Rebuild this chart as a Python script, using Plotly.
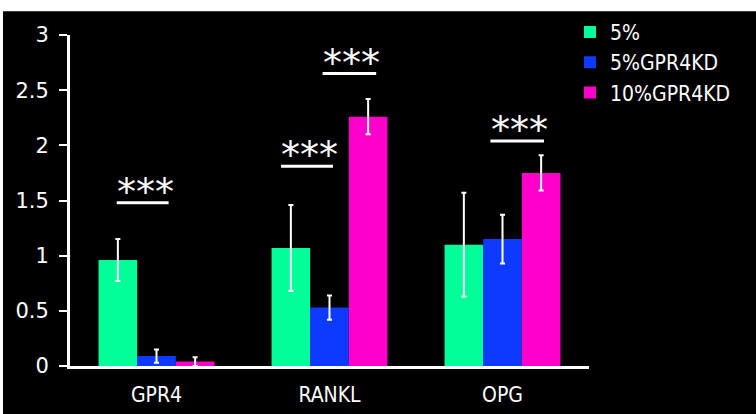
import plotly.graph_objects as go

# Relative expression by gene and culture condition
genes = ["GPR4", "RANKL", "OPG"]
series_names = ["5%", "5%GPR4KD", "10%GPR4KD"]
means = {
    "5%":        [0.96, 1.07, 1.10],
    "5%GPR4KD":  [0.09, 0.53, 1.15],
    "10%GPR4KD": [0.04, 2.26, 1.75],
}
errors = {
    "5%":        [0.19, 0.39, 0.47],
    "5%GPR4KD":  [0.06, 0.11, 0.22],
    "10%GPR4KD": [0.04, 0.16, 0.16],
}
colors = {"5%": "#00FF99", "5%GPR4KD": "#0D3AFF", "10%GPR4KD": "#FF00CC"}

# Significance marks: (gene index, left offset, right offset, bar height, label)
sig_gene = [0, 1, 1, 2]
sig_x0 = [-0.23, -0.28, -0.04, -0.07]
sig_x1 = [0.07, 0.02, 0.27, 0.24]
sig_y = [1.48, 1.81, 2.65, 2.04]
sig_text = ["***", "***", "***", "***"]

FONT = "DejaVu Sans Condensed, DejaVu Sans, sans-serif"

fig = go.Figure()
for name in series_names:
    fig.add_trace(go.Bar(
        x=genes, y=means[name], name=name,
        marker=dict(color=colors[name], line=dict(width=0)),
        error_y=dict(type="data", array=errors[name], visible=True,
                     color="white", thickness=2, width=2.5),
    ))

shapes = [
    # white frame strip along the top and left edges
    dict(type="rect", xref="paper", yref="paper", layer="below",
         x0=(3 - 70) / 519, x1=(760 - 70) / 519,
         y0=(366 - 420) / 335, y1=(366 - 7) / 335,
         fillcolor="black", line=dict(width=0)),
]
annotations = []
for g, a, b, y, t in zip(sig_gene, sig_x0, sig_x1, sig_y, sig_text):
    shapes.append(dict(type="line", xref="x", yref="y",
                       x0=g + a, x1=g + b, y0=y, y1=y,
                       line=dict(color="white", width=3)))
    annotations.append(dict(x=g + (a + b) / 2 + 0.015, y=y, xref="x", yref="y",
                            text=t, showarrow=False, yanchor="middle",
                            yshift=11,
                            font=dict(family="DejaVu Sans", size=38, color="white")))

fig.update_layout(
    width=756, height=414,
    margin=dict(l=70, r=167, t=31, b=48, pad=0),
    paper_bgcolor="white", plot_bgcolor="black",
    barmode="group", bargap=0.33, bargroupgap=0,
    font=dict(family=FONT, size=21, color="white"),
    showlegend=True,
    legend=dict(x=(570 - 70) / 519, xanchor="left", y=1.07, yanchor="top",
                bgcolor="rgba(0,0,0,0)", font=dict(size=21, color="white"),
                itemwidth=30, tracegroupgap=0),
    shapes=shapes, annotations=annotations,
)
fig.update_xaxes(showline=True, linecolor="white", linewidth=3, ticks="",
                 showgrid=False, zeroline=False, range=[-0.5, 2.5],
                 automargin=False,
                 ticklabelstandoff=8, tickfont=dict(size=21))
fig.update_yaxes(range=[0, 3], dtick=0.5, showline=True, linecolor="white",
                 linewidth=3, ticks="outside", ticklen=8, tickwidth=2,
                 tickcolor="white", showgrid=False, zeroline=False,
                 automargin=False, ticklabelstandoff=6,
                 tickfont=dict(family="DejaVu Sans", size=21))

fig.write_html("out.html")
